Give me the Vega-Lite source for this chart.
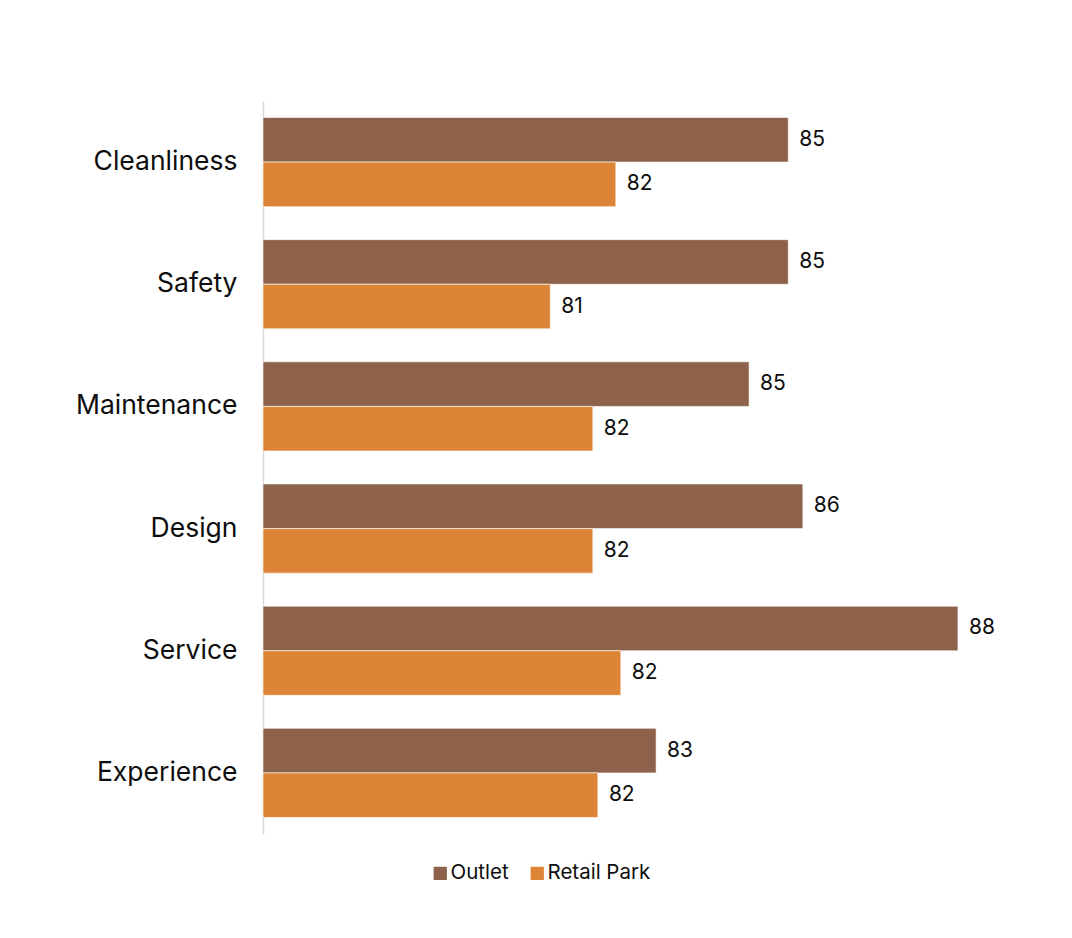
{
  "$schema": "https://vega.github.io/schema/vega-lite/v6.json",
  "autosize": {"type": "none"},
  "width": 784,
  "height": 733,
  "padding": {"left": 263, "top": 101, "right": 25, "bottom": 104},
  "background": "white",
  "config": {
    "view": {"stroke": null},
    "font": "Inter"
  },
  "data": {
    "values": [
      {"category": "Cleanliness", "series": "Outlet", "value": 85.38},
      {"category": "Cleanliness", "series": "Retail Park", "value": 82.3},
      {"category": "Safety", "series": "Outlet", "value": 85.38},
      {"category": "Safety", "series": "Retail Park", "value": 81.13},
      {"category": "Maintenance", "series": "Outlet", "value": 84.68},
      {"category": "Maintenance", "series": "Retail Park", "value": 81.89},
      {"category": "Design", "series": "Outlet", "value": 85.64},
      {"category": "Design", "series": "Retail Park", "value": 81.89},
      {"category": "Service", "series": "Outlet", "value": 88.41},
      {"category": "Service", "series": "Retail Park", "value": 82.39},
      {"category": "Experience", "series": "Outlet", "value": 83.02},
      {"category": "Experience", "series": "Retail Park", "value": 81.98}
    ]
  },
  "encoding": {
    "y": {
      "field": "category",
      "type": "nominal",
      "sort": ["Cleanliness", "Safety", "Maintenance", "Design", "Service", "Experience"],
      "scale": {"paddingInner": 0.27, "paddingOuter": 0.135},
      "axis": {
        "title": null,
        "ticks": false,
        "labelFontSize": 26.5,
        "labelFontWeight": 400,
        "labelColor": "#0d0d0d",
        "labelPadding": 26,
        "domainColor": "#d9d9d9",
        "domainWidth": 1.5,
        "labelFont": "Inter"
      }
    },
    "yOffset": {
      "field": "series",
      "type": "nominal",
      "sort": ["Outlet", "Retail Park"],
      "scale": {"paddingInner": 0, "paddingOuter": 0}
    },
    "x": {
      "field": "value",
      "type": "quantitative",
      "scale": {"domain": [76, 90], "zero": false, "clamp": true},
      "axis": null
    }
  },
  "layer": [
    {
      "mark": {"type": "bar", "stroke": "white", "strokeWidth": 1, "strokeOpacity": 0.6},
      "encoding": {
        "color": {
          "field": "series",
          "type": "nominal",
          "scale": {"domain": ["Outlet", "Retail Park"], "range": ["#8D614A", "#DD8436"]},
          "legend": {
            "title": null,
            "orient": "none",
            "direction": "horizontal",
            "legendX": 167,
            "legendY": 762,
            "symbolType": "square",
            "symbolSize": 175,
            "symbolStrokeWidth": 0,
            "labelFontSize": 20.5,
            "labelFontWeight": 400,
            "labelColor": "#0d0d0d",
            "labelFont": "Inter",
            "labelOffset": 0,
            "columnPadding": 18
          }
        }
      }
    },
    {
      "mark": {"type": "text", "align": "left", "baseline": "middle", "dx": 11, "fontSize": 21, "fontWeight": 400, "color": "#0d0d0d", "font": "Inter"},
      "encoding": {
        "text": {"field": "value", "type": "quantitative", "format": ".0f"}
      }
    }
  ]
}
